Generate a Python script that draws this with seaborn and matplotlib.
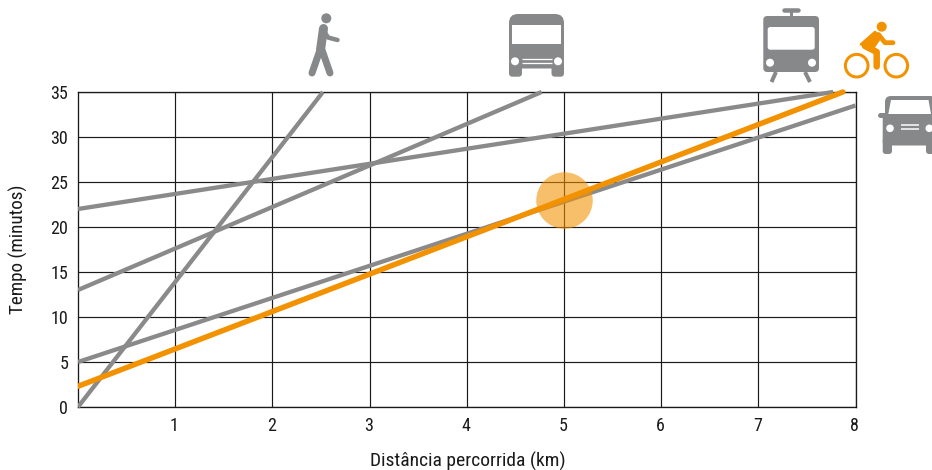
import matplotlib
matplotlib.use("Agg")
import matplotlib.pyplot as plt
from matplotlib.patches import Circle, FancyBboxPatch, Rectangle, Polygon
from matplotlib.transforms import ScaledTranslation
import seaborn as sns

# --- data ---
walk_x = [0, 2.52]
walk_y = [0, 35]
bus_x = [0, 4.77]
bus_y = [13, 35]
train_x = [0, 7.77]
train_y = [22, 35]
car_x = [0, 8]
car_y = [5, 33.5]
bike_x = [0, 7.87]
bike_y = [2.3, 35]
highlight_x = [5]
highlight_y = [23]
x_ticks = [1, 2, 3, 4, 5, 6, 7, 8]
y_ticks = [0, 5, 10, 15, 20, 25, 30, 35]
x_title = "Distância percorrida (km)"
y_title = "Tempo (minutos)"

GRAY = "#8a8a8b"
ICON = "#87888a"
ORANGE = "#f39200"
GRID = "#1a1a1a"
TXT = "#1a1a1a"

sns.set_style("white")
plt.rcParams["font.family"] = ["Roboto Condensed", "Archivo Narrow", "Liberation Sans", "DejaVu Sans"]

fig = plt.figure(figsize=(9.32, 4.70), dpi=100)
ax = fig.add_axes([78 / 932, 63 / 470, 777.5 / 932, 315 / 470])
ax.set_xlim(0, 8)
ax.set_ylim(0, 35)
ax.set_xticks(x_ticks)
ax.set_yticks(y_ticks)
ax.grid(True, color=GRID, lw=0.85)
ax.set_axisbelow(True)
for s in ax.spines.values():
    s.set_color(GRID)
    s.set_linewidth(0.95)
ax.tick_params(axis="both", length=0, labelsize=13, labelcolor=TXT)
ax.tick_params(axis="x", pad=7)
ax.tick_params(axis="y", pad=7)
shift = ScaledTranslation(-1 / 100, 0, fig.dpi_scale_trans)
for lab in ax.get_xticklabels():
    lab.set_transform(lab.get_transform() + shift)

clip = Rectangle((0, -0.01), 1.0, 1.03, transform=ax.transAxes)
for xs, ys, col, lw, cap in [
    (walk_x, walk_y, GRAY, 3.1, "butt"),
    (bus_x, bus_y, GRAY, 3.1, "butt"),
    (train_x, train_y, GRAY, 3.1, "butt"),
    (car_x, car_y, GRAY, 3.1, "butt"),
    (bike_x, bike_y, ORANGE, 3.9, "round"),
]:
    sns.lineplot(x=xs, y=ys, color=col, lw=lw, ax=ax, solid_capstyle=cap, zorder=3)
    ax.lines[-1].set_clip_path(clip)

sns.scatterplot(x=highlight_x, y=highlight_y, s=(56.5 * 0.72) ** 2, color=ORANGE,
                alpha=0.58, linewidth=0, ax=ax, zorder=4)

fig.text(467.5 / 932, 1 - 461 / 470, x_title, ha="center", va="center", fontsize=14, color=TXT)
fig.text(18.5 / 932, 1 - 249 / 470, y_title, ha="center", va="center", rotation=90, fontsize=13.8, color=TXT)

# --- pictograms, drawn in a pixel-sized overlay ---
ov = fig.add_axes([0, 0, 1, 1], zorder=10)
ov.set_xlim(0, 932)
ov.set_ylim(470, 0)
ov.axis("off")
ov.patch.set_alpha(0)
PX = 0.72


def stroke(pts, w, c=ICON, cap="round"):
    ov.plot([p[0] for p in pts], [p[1] for p in pts], color=c, lw=w * PX,
            solid_capstyle=cap, solid_joinstyle="round")


def disc(x, y, r, c=ICON):
    ov.add_patch(Circle((x, y), r, fc=c, ec="none"))


def rrect(x0, y0, x1, y1, r, c=ICON):
    ov.add_patch(FancyBboxPatch((x0 + r, y0 + r), x1 - x0 - 2 * r, y1 - y0 - 2 * r,
                                boxstyle=f"round,pad={r},rounding_size={r}", fc=c, ec="none"))


# walker
disc(326.3, 18.3, 5)
stroke([(323.5, 28.5), (320.5, 50)], 9)
stroke([(320, 50), (312, 73)], 7)
stroke([(322, 50), (330, 73)], 7)
stroke([(324, 31), (328, 37.5), (337.5, 40)], 4.5)

# bus
rrect(509, 14, 564, 68.5, 9)
rrect(509, 60, 522, 76.7, 3.5)
rrect(551.5, 60, 564, 76.7, 3.5)
ov.add_patch(Rectangle((511.7, 25.3), 49.6, 19, fc="white", ec="none"))
disc(515, 61.3, 4, "white")
disc(558, 61.3, 4, "white")
stroke([(522, 59.3), (551.5, 59.3)], 1.3, "white", "butt")
stroke([(522, 62.9), (551.5, 62.9)], 1.3, "white", "butt")

# tram
rrect(763.3, 16, 819, 72, 4)
rrect(767.7, 27, 814.7, 49.7, 2.5, "white")
disc(770, 62.7, 4, "white")
disc(812, 62.7, 4, "white")
stroke([(784, 9.7), (798, 9.7)], 4.5)
stroke([(791, 10), (791, 17)], 3, cap="butt")
stroke([(776, 72), (771.5, 82)], 4, cap="butt")
stroke([(805, 72), (810, 82)], 4, cap="butt")

# bicycle
for cx in (856.7, 896.3):
    ov.add_patch(Circle((cx, 65.7), 11.3, fc="none", ec=ORANGE, lw=3 * PX))
disc(881.7, 26.7, 5, ORANGE)
ov.add_patch(Polygon([(860.7, 44.3), (875, 31.7), (881, 37), (872, 50)], fc=ORANGE, ec=ORANGE,
                     lw=1.5, joinstyle="round"))
stroke([(878.5, 34.5), (885, 42.7), (893, 42.7)], 4.8, ORANGE)
stroke([(865, 46), (876.7, 52), (876.7, 66.5)], 6.5, ORANGE)

# car (runs off the right edge)
rrect(885, 96, 936, 130, 6)
rrect(882.7, 114, 937, 145.5, 4)
rrect(882.7, 138, 892, 154, 3)
rrect(926, 138, 936, 154, 3)
stroke([(879.5, 115.3), (885, 115.3)], 5)
ov.add_patch(Polygon([(888.3, 114), (891, 100), (928.5, 100), (931, 114)], fc="white", ec="none"))
disc(890, 128.3, 3.8, "white")
disc(929.3, 128.3, 3.8, "white")
stroke([(900.7, 125.3), (919.3, 125.3)], 1.5, "white", "butt")
stroke([(900.7, 129.3), (919.3, 129.3)], 1.5, "white", "butt")

fig.savefig("out.png", dpi=100)
